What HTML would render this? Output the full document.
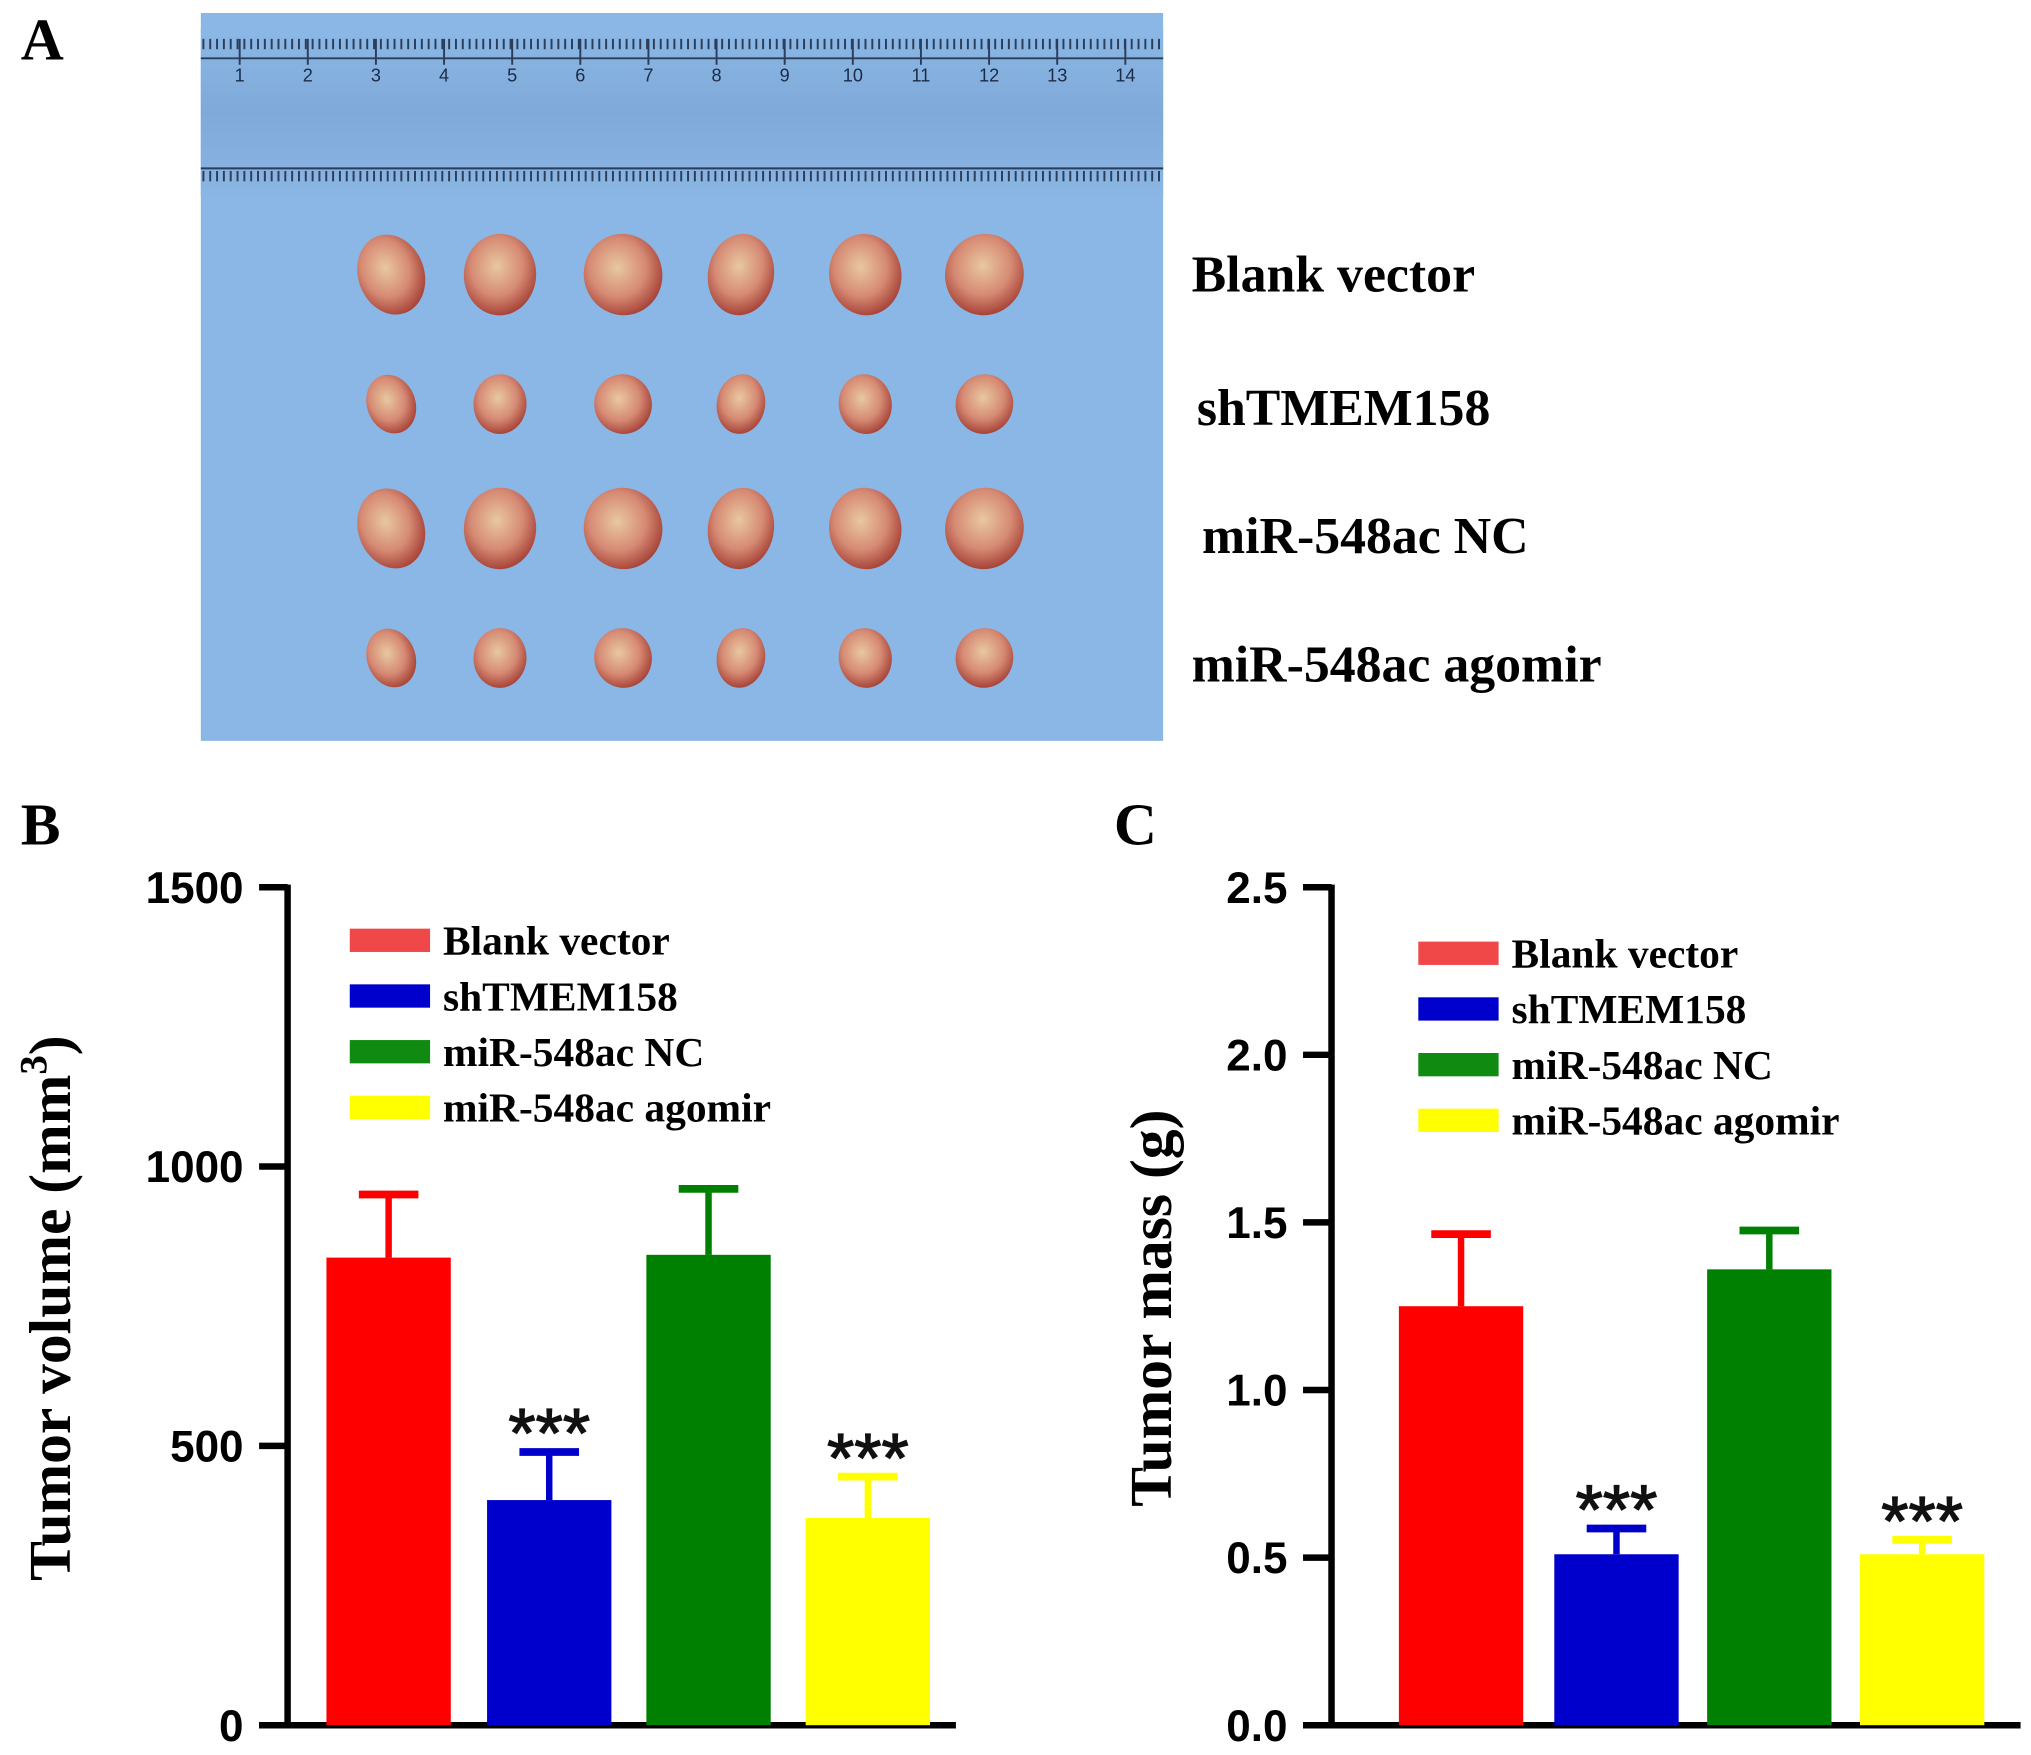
<!DOCTYPE html>
<html><head><meta charset="utf-8"><style>
html,body{margin:0;padding:0;background:#fff;}
svg{display:block;}
.lab{font-family:"Liberation Serif",serif;font-weight:bold;}
.tick{font-family:"Liberation Sans",sans-serif;font-weight:bold;font-size:34px;}
</style></head><body>
<svg id="fig" width="2031" height="1755" viewBox="0 0 1568 1355" xmlns="http://www.w3.org/2000/svg">
<defs>
<linearGradient id="rg" x1="0" y1="0" x2="0" y2="1">
<stop offset="0" stop-color="#8bb8e6"/><stop offset="0.5" stop-color="#7fa9d8"/><stop offset="1" stop-color="#8ab6e4"/></linearGradient>
<radialGradient id="tg" cx="0.45" cy="0.4" r="0.6">
<stop offset="0" stop-color="#e8c8a0"/><stop offset="0.6" stop-color="#d68a74"/><stop offset="1" stop-color="#a8453a"/></radialGradient>
</defs>
<text class="lab" x="16" y="46" font-size="46">A</text>
<text class="lab" x="16" y="652" font-size="46">B</text>
<text class="lab" x="860" y="652" font-size="46">C</text>
<g>
<rect x="155" y="10" width="743" height="562" fill="#8ab7e5"/>
<rect x="155" y="22" width="743" height="130" fill="url(#rg)"/>
<g id="ruler" stroke="#2c3d5a" stroke-width="1.5"></g>
</g>
<g id="tumors"></g>
<text class="lab" x="920" y="225" font-size="40">Blank vector</text>
<text class="lab" x="924" y="328" font-size="40">shTMEM158</text>
<text class="lab" x="928" y="427" font-size="40">miR-548ac NC</text>
<text class="lab" x="920" y="526" font-size="40">miR-548ac agomir</text>
<g id="chartB"></g>
<g id="chartC"></g>
</svg>
<script>
const NS="http://www.w3.org/2000/svg";
const svg=document.getElementById('fig');
function mk(tag,attrs,parent,text){const e=document.createElementNS(NS,tag);for(const k in attrs)e.setAttribute(k,attrs[k]);if(text!==undefined)e.textContent=text;(parent||svg).appendChild(e);return e;}
const ru=document.getElementById('ruler');
mk('line',{x1:155,y1:45,x2:898,y2:45},ru);mk('line',{x1:155,y1:130,x2:898,y2:130},ru);
for(let x=157;x<898;x+=5.27){mk('line',{x1:x,y1:30,x2:x,y2:38},ru);mk('line',{x1:x,y1:140,x2:x,y2:132},ru);}
for(let i=1;i<=14;i++){const x=185+(i-1)*52.6;mk('line',{x1:x,y1:30,x2:x,y2:50},ru);const t=mk('text',{x:x,y:63,'font-size':14,'text-anchor':'middle',fill:'#1c2b45','font-family':'Liberation Sans'},ru,String(i));t.setAttribute('stroke','none');}
const tumorRows=[212,312,408,508];const tumorCols=[302,386,481,572,668,760];const tumorSizes=[30,22,30,22];
const tg=document.getElementById('tumors');
tumorRows.forEach((y,r)=>tumorCols.forEach((x,c)=>{const s=tumorSizes[r];
const e=mk('ellipse',{cx:x,cy:y,rx:s*(0.85+0.08*((c*7)%3)),ry:s*1.05,fill:'url(#tg)',transform:`rotate(${(c*23)%40-20} ${x} ${y})`},tg);

}));

const categories=['Blank vector','shTMEM158','miR-548ac NC','miR-548ac agomir'];
const colors=['#ff0000','#0000cc','#008000','#ffff00'];
const legendColors=['#f04848','#0000cc','#118a11','#ffff00'];
const volMeans=[837,403,842,371];
const volErr=[113,86,118,74];
const volTicks=[0,500,1000,1500];
const massMeans=[1.25,0.51,1.36,0.51];
const massErr=[0.215,0.077,0.116,0.043];
const massTicks=[0.0,0.5,1.0,1.5,2.0,2.5];
const massTickLabels=['0.0','0.5','1.0','1.5','2.0','2.5'];

function chart(g,o){
 const y=v=>o.y0-(v/o.max)*(o.y0-o.y1);
 const ax=mk('line',{x1:o.ax,y1:o.y1-2,x2:o.ax,y2:o.y0+2,stroke:'#000','stroke-width':5},g);
 
 
 const xa=mk('line',{x1:o.ax-22,y1:o.y0,x2:o.xend,y2:o.y0,stroke:'#000','stroke-width':5},g);
 
 
 o.ticks.forEach((t,i)=>{mk('line',{x1:o.ax-22,y1:y(t),x2:o.ax,y2:y(t),stroke:'#000','stroke-width':5},g);
  const tl=mk('text',{x:o.ax-34,y:y(t)+12,'text-anchor':'end',class:'tick'},g,o.tickLabels[i]);
  
  });
 o.means.forEach((m,i)=>{const x=o.bx[i];const cx=x+48;
  const eb=mk('line',{x1:cx,y1:y(m),x2:cx,y2:y(m+o.err[i]),stroke:colors[i],'stroke-width':5},g);
  
  
  mk('line',{x1:cx-23,y1:y(m+o.err[i]),x2:cx+23,y2:y(m+o.err[i]),stroke:colors[i],'stroke-width':6},g);
  const b=mk('rect',{x:x,y:y(m),width:96,height:o.y0-y(m),fill:colors[i]},g);
  
  
  if(i%2==1){const s=mk('text',{x:cx,y:y(m+o.err[i])+4,'text-anchor':'middle','font-size':54,'font-family':'Liberation Sans',fill:'#111',stroke:'#111','stroke-width':1},g,'***');
   
   }
 });
 categories.forEach((c,i)=>{const ly=o.ly+i*o.lsp;
  mk('rect',{x:o.lx,y:ly-9,width:62,height:18,fill:legendColors[i]},g);
  const t=mk('text',{x:o.lx+72,y:ly+11,class:'lab','font-size':32},g,c);
  
  });
 const tt=mk('text',{x:0,y:0,class:'lab','font-size':46,'text-anchor':'middle',transform:`translate(${o.tx},1010) rotate(-90)`},g);
 
 
 tt.innerHTML=o.title;
}
chart(document.getElementById('chartB'),{ax:222,y0:1332,y1:685,max:1500,xend:738,ticks:volTicks,tickLabels:volTicks.map(String),means:volMeans,err:volErr,bx:[252,376,499,622],lx:270,ly:726,lsp:43,tx:54,title:'Tumor volume (mm<tspan dy="-18" font-size="30">3</tspan><tspan dy="18">)</tspan>'});
chart(document.getElementById('chartC'),{ax:1028,y0:1332,y1:685,max:2.5,xend:1560,ticks:massTicks,tickLabels:massTickLabels,means:massMeans,err:massErr,bx:[1080,1200,1318,1436],lx:1095,ly:736,lsp:43,tx:904,title:'Tumor mass (g)'});
</script>
</body></html>
